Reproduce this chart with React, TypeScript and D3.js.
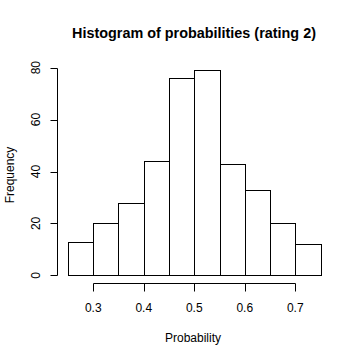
import * as d3 from "d3";

// histogram bins (left edges) and counts
const binEdges = [0.25, 0.3, 0.35, 0.4, 0.45, 0.5, 0.55, 0.6, 0.65, 0.7, 0.75];
const counts = [13, 20, 28, 44, 76, 79, 43, 33, 20, 12];
const xTicks = [0.3, 0.4, 0.5, 0.6, 0.7];
const yTicks = [0, 20, 40, 60, 80];

const font = "'Liberation Sans', Arial, Helvetica, sans-serif";

export default function App() {
  const width = 360;
  const height = 360;

  const x = d3.scaleLinear().domain([0.25, 0.75]).range([68, 320.5]);
  const y = d3.scaleLinear().domain([0, 80]).range([275.3, 67.7]);

  const axisX = 57.5;
  const axisY = 283.5;
  const px = (v: number) => Math.round(v) + 0.5;

  const bins = counts.map((c, i) => ({ x0: binEdges[i], x1: binEdges[i + 1], c }));

  return (
    <svg
      width={width}
      height={height}
      style={{ position: "absolute", left: 0, top: 0, background: "white" }}
      fontFamily={font}
    >
      <rect width={width} height={height} fill="white" />

      {/* title */}
      <text x={194} y={37.5} textAnchor="middle" fontSize={14.4} fontWeight="bold">
        Histogram of probabilities (rating 2)
      </text>

      {/* bars */}
      {bins.map((b, i) => (
        <rect
          key={i}
          x={px(x(b.x0))}
          y={px(y(b.c))}
          width={px(x(b.x1)) - px(x(b.x0))}
          height={px(y(0)) - px(y(b.c))}
          fill="white"
          stroke="black"
          strokeWidth={1}
        />
      ))}

      {/* y axis */}
      <line x1={axisX} x2={axisX} y1={px(y(0))} y2={px(y(80))} stroke="black" />
      {yTicks.map((t) => (
        <g key={t}>
          <line x1={axisX - 7} x2={axisX} y1={px(y(t))} y2={px(y(t))} stroke="black" />
          <text
            transform={`translate(39.5,${y(t)}) rotate(-90)`}
            textAnchor="middle"
            fontSize={12}
          >
            {t}
          </text>
        </g>
      ))}

      {/* x axis */}
      <line x1={px(x(0.3))} x2={px(x(0.7))} y1={axisY} y2={axisY} stroke="black" />
      {xTicks.map((t) => (
        <g key={t}>
          <line x1={px(x(t))} x2={px(x(t))} y1={axisY} y2={axisY + 8} stroke="black" />
          <text x={x(t)} y={312} textAnchor="middle" fontSize={12}>
            {t.toFixed(1)}
          </text>
        </g>
      ))}

      {/* axis labels */}
      <text x={193} y={342} textAnchor="middle" fontSize={12}>
        Probability
      </text>
      <text transform="translate(14,175) rotate(-90)" textAnchor="middle" fontSize={12}>
        Frequency
      </text>
    </svg>
  );
}
